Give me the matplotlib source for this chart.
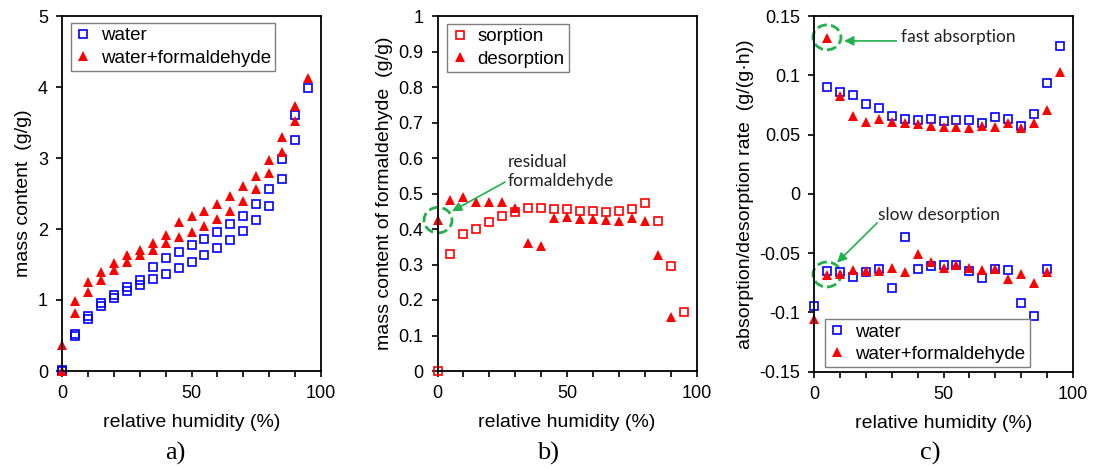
import matplotlib
matplotlib.use("Agg")
import matplotlib.pyplot as plt
from matplotlib.patches import Ellipse

plt.rcParams['font.family'] = ['Liberation Sans', 'DejaVu Sans']
plt.rcParams['axes.unicode_minus'] = False

# ---------------- data ----------------
rh_a = [0, 5, 10, 15, 20, 25, 30, 35, 40, 45, 50, 55, 60, 65, 70, 75, 80, 85, 90, 95]
water_up = [0.02, 0.52, 0.78, 0.96, 1.07, 1.19, 1.28, 1.47, 1.59, 1.68, 1.77, 1.86, 1.96, 2.07, 2.19, 2.35, 2.57, 2.99, 3.61, 3.99]
rh_a_low = [0, 5, 10, 15, 20, 25, 30, 35, 40, 45, 50, 55, 60, 65, 70, 75, 80, 85, 90]
water_low = [0.0, 0.49, 0.73, 0.91, 1.03, 1.12, 1.21, 1.29, 1.37, 1.45, 1.53, 1.63, 1.73, 1.84, 1.97, 2.12, 2.33, 2.70, 3.25]
wf_up = [0.36, 0.99, 1.25, 1.40, 1.52, 1.63, 1.71, 1.80, 1.91, 2.10, 2.18, 2.26, 2.35, 2.47, 2.60, 2.75, 2.97, 3.30, 3.73, 4.13]
wf_low = [0.0, 0.82, 1.11, 1.28, 1.42, 1.54, 1.63, 1.71, 1.80, 1.89, 1.96, 2.04, 2.14, 2.25, 2.39, 2.56, 2.79, 3.09, 3.52]

rh_sorp = [0, 5, 10, 15, 20, 25, 30, 35, 40, 45, 50, 55, 60, 65, 70, 75, 80, 85, 90, 95]
sorption = [0.0, 0.329, 0.385, 0.401, 0.420, 0.436, 0.449, 0.458, 0.460, 0.455, 0.455, 0.451, 0.451, 0.447, 0.451, 0.455, 0.473, 0.423, 0.295, 0.167]
rh_desorp = [0, 5, 10, 15, 20, 25, 30, 35, 40, 45, 50, 55, 60, 65, 70, 75, 80, 85, 90]
desorption = [0.425, 0.483, 0.490, 0.476, 0.476, 0.476, 0.460, 0.361, 0.351, 0.430, 0.434, 0.428, 0.428, 0.425, 0.423, 0.432, 0.423, 0.326, 0.153]

rh_abs = [5, 10, 15, 20, 25, 30, 35, 40, 45, 50, 55, 60, 65, 70, 75, 80, 85, 90, 95]
water_abs = [0.090, 0.086, 0.083, 0.076, 0.072, 0.0655, 0.0635, 0.0624, 0.0632, 0.0613, 0.0624, 0.0624, 0.0601, 0.0644, 0.0635, 0.0573, 0.0675, 0.0939, 0.1248]
wf_abs = [0.1318, 0.0826, 0.066, 0.0604, 0.063, 0.0604, 0.0596, 0.0587, 0.0576, 0.0562, 0.0562, 0.0554, 0.0576, 0.0565, 0.0601, 0.0554, 0.0596, 0.0711, 0.1026]
rh_des = [0, 5, 10, 15, 20, 25, 30, 35, 40, 45, 50, 55, 60, 65, 70, 75, 80, 85, 90]
water_des = [-0.0945, -0.0649, -0.0655, -0.0703, -0.0663, -0.0638, -0.0796, -0.0365, -0.0638, -0.0607, -0.0596, -0.0601, -0.0649, -0.0711, -0.0638, -0.0646, -0.0920, -0.1027, -0.0635]
wf_des = [-0.1052, -0.0686, -0.0677, -0.0646, -0.0649, -0.0649, -0.0627, -0.0655, -0.0508, -0.0573, -0.0627, -0.0604, -0.0627, -0.0646, -0.0632, -0.0717, -0.0674, -0.0748, -0.0658]

a_yticks = [0, 1, 2, 3, 4, 5]
b_yticks = [0, 0.1, 0.2, 0.3, 0.4, 0.5, 0.6, 0.7, 0.8, 0.9, 1.0]
b_ylabels = ['0', '0.1', '0.2', '0.3', '0.4', '0.5', '0.6', '0.7', '0.8', '0.9', '1']
c_yticks = [-0.15, -0.1, -0.05, 0, 0.05, 0.1, 0.15]
c_ylabels = ['-0.15', '-0.1', '-0.05', '0', '0.05', '0.1', '0.15']
x_ticks = [0, 10, 20, 30, 40, 50, 60, 70, 80, 90, 100]
x_labels = ['0', '', '', '', '', '50', '', '', '', '', '100']

BLUE = '#0000ff'
RED = '#ff0000'
GREEN = '#22b04c'
FS_TICK = 13
FS_LABEL = 14
FS_LEG = 13.5

sq = dict(marker='s', linestyle='none', markersize=5.2, markerfacecolor='none',
          markeredgewidth=1.2, clip_on=False)
tri = dict(marker='^', linestyle='none', markersize=6.5, markeredgewidth=0, clip_on=False)

fig = plt.figure(figsize=(10.94, 4.69), dpi=100)
W, H = 1094, 469
def pos(l, r, t=16, b=371):
    return [l / W, 1 - b / H, (r - l) / W, (b - t) / H]

ax_a = fig.add_axes(pos(62, 321))
ax_b = fig.add_axes(pos(437.5, 696.7))
ax_c = fig.add_axes(pos(814, 1073, t=16, b=371.7))

for ax in (ax_a, ax_b, ax_c):
    ax.set_xlim(0, 100)
    ax.set_xticks(x_ticks)
    ax.set_xticklabels(x_labels)
    ax.tick_params(direction='out', length=4, width=1.2, labelsize=FS_TICK, pad=6)
    for s in ax.spines.values():
        s.set_linewidth(1.3)
        s.set_color('black')
    ax.set_xlabel('relative humidity (%)', fontsize=FS_LABEL, labelpad=9)

# ----- panel a -----
ax_a.plot(rh_a, water_up, color=BLUE, markeredgecolor=BLUE, label='water', **sq)
ax_a.plot(rh_a_low, water_low, color=BLUE, markeredgecolor=BLUE, **sq)
ax_a.plot(rh_a, wf_up, color=RED, markerfacecolor=RED, label='water+formaldehyde', **tri)
ax_a.plot(rh_a_low, wf_low, color=RED, markerfacecolor=RED, **tri)
ax_a.set_ylim(0, 5)
ax_a.set_yticks(a_yticks)
ax_a.set_ylabel('mass content  (g/g)', fontsize=FS_LABEL)

# ----- panel b -----
ax_b.plot(rh_sorp, sorption, color=RED, markeredgecolor=RED, label='sorption', **sq)
ax_b.plot(rh_desorp, desorption, color=RED, markerfacecolor=RED, label='desorption', **tri)
ax_b.set_ylim(0, 1)
ax_b.set_yticks(b_yticks)
ax_b.set_yticklabels(b_ylabels)
ax_b.set_ylabel('mass content of formaldehyde  (g/g)', fontsize=FS_LABEL)

# ----- panel c -----
ax_c.plot(rh_abs, water_abs, color=BLUE, markeredgecolor=BLUE, label='water', **sq)
ax_c.plot(rh_des, water_des, color=BLUE, markeredgecolor=BLUE, **sq)
ax_c.plot(rh_abs, wf_abs, color=RED, markerfacecolor=RED, label='water+formaldehyde', **tri)
ax_c.plot(rh_des, wf_des, color=RED, markerfacecolor=RED, **tri)
ax_c.set_ylim(-0.15, 0.15)
ax_c.set_yticks(c_yticks)
ax_c.set_yticklabels(c_ylabels)
ax_c.set_ylabel('absorption/desorption rate  (g/(g\u00b7h))', fontsize=FS_LABEL)

leg_kw = dict(fontsize=FS_LEG, frameon=True, fancybox=False, edgecolor='#7f7f7f',
              handlelength=0.9, handletextpad=0.5, labelspacing=0.28,
              borderpad=0.22, borderaxespad=0, framealpha=1)
la = ax_a.legend(loc='upper left', bbox_to_anchor=(0.033, 0.98), **leg_kw)
lb = ax_b.legend(loc='upper left', bbox_to_anchor=(0.037, 0.977), **leg_kw)
lc = ax_c.legend(loc='lower left', bbox_to_anchor=(0.042, 0.013), **leg_kw)
for lg in (la, lb, lc):
    lg.get_frame().set_linewidth(1.0)

# ----- annotations -----
ann_font = dict(fontsize=12.5, family=['Lato', 'DejaVu Sans'], color='#222222')
dash = (0, (3.5, 1.5))
ax_b.add_patch(Ellipse((0.2, 0.425), 10.8, 0.072, fill=False, edgecolor=GREEN,
                       linestyle=dash, linewidth=2, clip_on=False))
ax_b.annotate('', xy=(5.6, 0.45), xytext=(26, 0.532),
              arrowprops=dict(arrowstyle='-|>', color=GREEN, lw=1.2, mutation_scale=14,
                              shrinkA=0, shrinkB=0))
ax_b.text(27, 0.562, 'residual\nformaldehyde', ha='left', va='center',
          linespacing=1.25, **ann_font)

ax_c.add_patch(Ellipse((5.0, 0.132), 10.8, 0.021, fill=False, edgecolor=GREEN,
                       linestyle=dash, linewidth=2, clip_on=False))
ax_c.annotate('', xy=(11.6, 0.129), xytext=(31.8, 0.129),
              arrowprops=dict(arrowstyle='-|>', color=GREEN, lw=1.2, mutation_scale=14,
                              shrinkA=0, shrinkB=0))
ax_c.text(33.7, 0.132, 'fast absorption', ha='left', va='center', **ann_font)

ax_c.add_patch(Ellipse((5.0, -0.068), 10.8, 0.021, fill=False, edgecolor=GREEN,
                       linestyle=dash, linewidth=2, clip_on=False))
ax_c.annotate('', xy=(8.9, -0.058), xytext=(24.4, -0.0245),
              arrowprops=dict(arrowstyle='-|>', color=GREEN, lw=1.2, mutation_scale=14,
                              shrinkA=0, shrinkB=0))
ax_c.text(24.8, -0.0177, 'slow desorption', ha='left', va='center', **ann_font)

# panel letters
for x, s in ((175, 'a)'), (548, 'b)'), (930, 'c)')):
    fig.text(x / W, 1 - 453 / H, s, ha='center', va='center', fontsize=19,
             family=['Liberation Serif', 'DejaVu Serif'])

fig.savefig('out.png', dpi=100)
